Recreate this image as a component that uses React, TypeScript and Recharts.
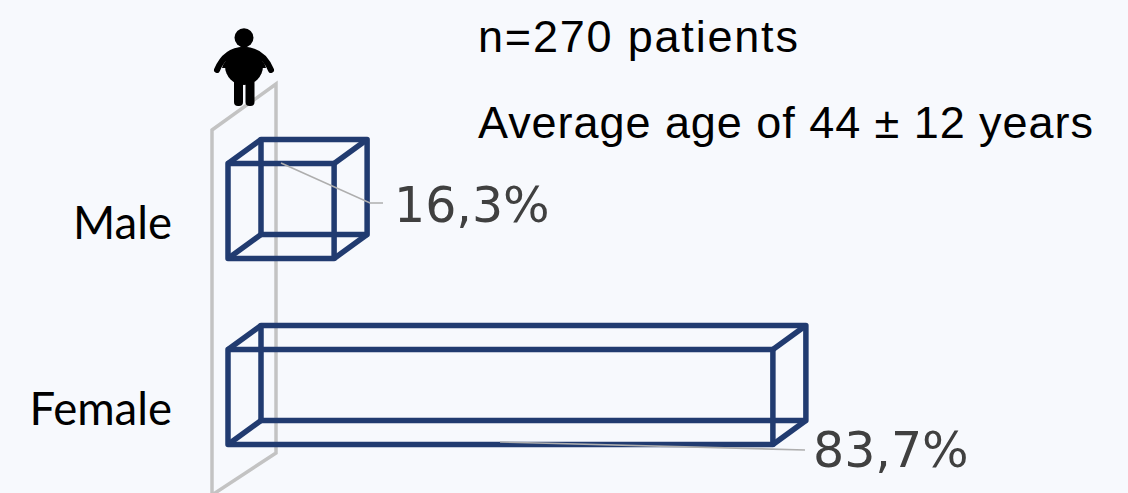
import { BarChart, Bar, XAxis, YAxis, LabelList } from "recharts"

const categories = ["Male", "Female"]
const shares = [16.3, 83.7]
const titleLines = ["n=270 patients", "Average age of 44 ± 12 years"]

const data = categories.map((name, i) => ({ name, share: shares[i] }))

const BLUE = "#213b70"
const DEPTH_X = 33
const DEPTH_Y = 24

// where each percentage sits and how its leader line runs
const labelSpots = [
  { textX: 394, textY: 222, leader: "M281 163 L370 203 L383 203" },
  { textX: 813, textY: 467, leader: "M500 442 L805 450" },
]

function Box({ x, y, width, height }: any) {
  const r = x + width
  const b = y + height
  const bx = x + DEPTH_X
  const br = r + DEPTH_X
  const by = y - DEPTH_Y
  const bb = b - DEPTH_Y
  return (
    <g fill="none" stroke={BLUE} strokeWidth={5.5} strokeLinejoin="round">
      <path d={`M${bx} ${by} H${br} V${bb} H${bx} Z`} />
      <path d={`M${x} ${y} H${r} V${b} H${x} Z`} />
      <path d={`M${x} ${y} L${bx} ${by} M${r} ${y} L${br} ${by} M${r} ${b} L${br} ${bb} M${x} ${b} L${bx} ${bb}`} />
    </g>
  )
}

function ShareLabel({ value, index }: any) {
  const spot = labelSpots[index]
  return (
    <g>
      <path d={spot.leader} fill="none" stroke="#aeaeae" strokeWidth={1.6} />
      <text x={spot.textX} y={spot.textY} fontFamily="DejaVu Sans" fontSize={49} fill="#404040">
        {String(value).replace(".", ",")}%
      </text>
    </g>
  )
}

function CategoryTick({ x, y, payload }: any) {
  return (
    <text x={x} y={y + 28.5} textAnchor="end" fontFamily="Lato" fontSize={45.5} fill="#000">
      {payload.value}
    </text>
  )
}

function Person() {
  return (
    <g fill="#000" stroke="none">
      <circle cx={244} cy={37.7} r={9.5} />
      <ellipse cx={244} cy={66} rx={19} ry={19} />
      <path d="M244 50 C231 50 222 58 217 70 M244 50 C257 50 266 58 271 70" fill="none" stroke="#000" strokeWidth={6} strokeLinecap="round" />
      <path d="M222 68 C226 50 262 50 266 68 Z" />
      <rect x={234} y={78} width={9} height={28} rx={4} />
      <rect x={245.5} y={78} width={9} height={28} rx={4} />
    </g>
  )
}

export default function App() {
  return (
    <div style={{ position: "fixed", left: 0, top: 0, width: 1128, height: 493, background: "#f7f9fd" }}>
      <BarChart
        width={1128}
        height={493}
        data={data}
        layout="vertical"
        margin={{ top: 117.5, right: 249, bottom: 3.5, left: 0 }}
      >
        <path d="M212 495 V130 L276 84 V453 L212 495" fill="none" stroke="#c3c3c3" strokeWidth={3.5} />
        <XAxis type="number" domain={[0, 100]} hide />
        <YAxis
          type="category"
          dataKey="name"
          width={228}
          axisLine={false}
          tickLine={false}
          tickSize={0}
          tickMargin={56}
          tick={CategoryTick}
        />
        <Bar dataKey="share" barSize={95} shape={Box} isAnimationActive={false}>
          <LabelList dataKey="share" content={ShareLabel} />
        </Bar>
        <Person />
        <text x={478} y={51.7} fontFamily="Liberation Sans" fontSize={45} letterSpacing={1.8} fill="#000">
          {titleLines[0]}
        </text>
        <text x={478} y={137.7} fontFamily="Liberation Sans" fontSize={45} letterSpacing={0.95} fill="#000">
          {titleLines[1]}
        </text>
      </BarChart>
    </div>
  )
}
